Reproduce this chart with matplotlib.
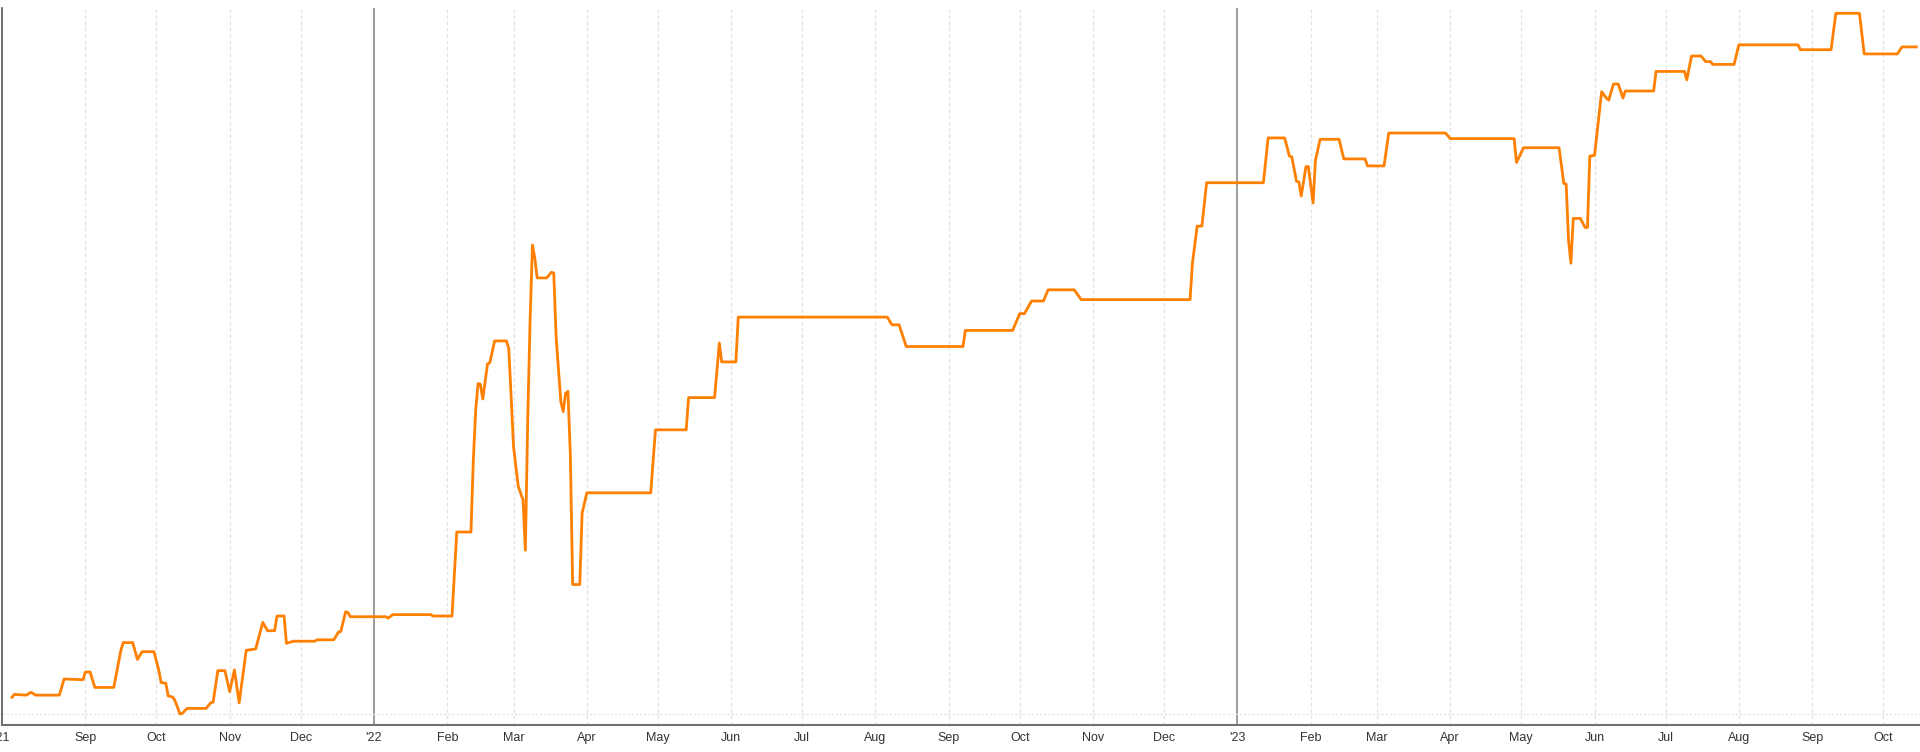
import numpy as np
import pandas as pd
import matplotlib
matplotlib.use('Agg')
import matplotlib.pyplot as plt
import matplotlib.dates as mdates
from matplotlib.ticker import FuncFormatter

plt.rcParams['font.family'] = ['Liberation Sans Narrow', 'Liberation Sans', 'DejaVu Sans']

# daily series (arbitrary units, 0 = dotted baseline)
dates = [
    '2021-08-01', '2021-08-02', '2021-08-07', '2021-08-09', '2021-08-11', '2021-08-21', '2021-08-23', '2021-08-31',
    '2021-09-01', '2021-09-03', '2021-09-05', '2021-09-13', '2021-09-16', '2021-09-17', '2021-09-21', '2021-09-23',
    '2021-09-25', '2021-09-30',
    '2021-10-02', '2021-10-03', '2021-10-05', '2021-10-06', '2021-10-08', '2021-10-09', '2021-10-11', '2021-10-12',
    '2021-10-14', '2021-10-22', '2021-10-24', '2021-10-25', '2021-10-27', '2021-10-30',
    '2021-11-01', '2021-11-03', '2021-11-05', '2021-11-08', '2021-11-12', '2021-11-15', '2021-11-17', '2021-11-20',
    '2021-11-21', '2021-11-24', '2021-11-25', '2021-11-28',
    '2021-12-07', '2021-12-08', '2021-12-15', '2021-12-17', '2021-12-18', '2021-12-20', '2021-12-21', '2021-12-22',
    '2022-01-06', '2022-01-07', '2022-01-09', '2022-01-25', '2022-01-26',
    '2022-02-03', '2022-02-05', '2022-02-11', '2022-02-12', '2022-02-13', '2022-02-14', '2022-02-15', '2022-02-16',
    '2022-02-18', '2022-02-19', '2022-02-21', '2022-02-26', '2022-02-27',
    '2022-03-01', '2022-03-03', '2022-03-05', '2022-03-06', '2022-03-07', '2022-03-08', '2022-03-09', '2022-03-10',
    '2022-03-11', '2022-03-15', '2022-03-17', '2022-03-18', '2022-03-19', '2022-03-21', '2022-03-22', '2022-03-23',
    '2022-03-24', '2022-03-25', '2022-03-26', '2022-03-29', '2022-03-30',
    '2022-04-01', '2022-04-28', '2022-04-30',
    '2022-05-13', '2022-05-14', '2022-05-25', '2022-05-27', '2022-05-28',
    '2022-06-03', '2022-06-04',
    '2022-08-06', '2022-08-08', '2022-08-11', '2022-08-14',
    '2022-09-07', '2022-09-08', '2022-09-28',
    '2022-10-01', '2022-10-03', '2022-10-06', '2022-10-11', '2022-10-13', '2022-10-24', '2022-10-27',
    '2022-12-12', '2022-12-13', '2022-12-15', '2022-12-17', '2022-12-19',
    '2023-01-12', '2023-01-14', '2023-01-21', '2023-01-23', '2023-01-24', '2023-01-26', '2023-01-27', '2023-01-28',
    '2023-01-30', '2023-01-31',
    '2023-02-02', '2023-02-03', '2023-02-05', '2023-02-13', '2023-02-15', '2023-02-24', '2023-02-25',
    '2023-03-04', '2023-03-06', '2023-03-30',
    '2023-04-01', '2023-04-28', '2023-04-29',
    '2023-05-02', '2023-05-17', '2023-05-19', '2023-05-20', '2023-05-21', '2023-05-22', '2023-05-23', '2023-05-26',
    '2023-05-28', '2023-05-29', '2023-05-30',
    '2023-06-01', '2023-06-03', '2023-06-04', '2023-06-06', '2023-06-07', '2023-06-09', '2023-06-11', '2023-06-13',
    '2023-06-14', '2023-06-26', '2023-06-27',
    '2023-07-09', '2023-07-10', '2023-07-12', '2023-07-16', '2023-07-18', '2023-07-20', '2023-07-21', '2023-07-30',
    '2023-08-01', '2023-08-26', '2023-08-27',
    '2023-09-09', '2023-09-11', '2023-09-21', '2023-09-23',
    '2023-10-07', '2023-10-09', '2023-10-15',
]
values = [
    2.4, 2.8, 2.7, 3.1, 2.7, 2.7, 5.0, 4.9,
    6.0, 6.0, 3.8, 3.8, 9.1, 10.2, 10.2, 7.8,
    8.9, 8.9,
    6.3, 4.5, 4.4, 2.6, 2.4, 1.8, 0.0, 0.1,
    0.8, 0.8, 1.6, 1.7, 6.2, 6.2,
    3.2, 6.3, 1.6, 9.1, 9.3, 13.1, 11.9, 11.9,
    14.0, 14.0, 10.1, 10.4,
    10.4, 10.6, 10.6, 11.7, 11.8, 14.6, 14.5, 13.9,
    13.9, 13.7, 14.2, 14.2, 14.0,
    14.0, 26.0, 26.0, 36.3, 43.4, 47.2, 47.1, 45.0,
    50.0, 50.2, 53.3, 53.3, 52.2,
    38.2, 32.5, 30.6, 23.4, 42.0, 56.3, 67.0, 65.1,
    62.3, 62.3, 63.1, 63.0, 53.9, 44.6, 43.2, 45.8,
    46.1, 37.2, 18.5, 18.5, 28.7,
    31.6, 31.6, 40.6,
    40.6, 45.2, 45.2, 53.0, 50.3,
    50.3, 56.7,
    56.7, 55.6, 55.6, 52.5,
    52.5, 54.8, 54.8,
    57.2, 57.2, 59.0, 59.0, 60.6, 60.6, 59.2,
    59.2, 64.4, 69.7, 69.7, 75.9,
    75.9, 82.3, 82.3, 79.7, 79.6, 76.1, 76.0, 74.0,
    78.2, 78.2,
    73.0, 79.1, 82.1, 82.1, 79.3, 79.3, 78.3,
    78.3, 83.0, 83.0,
    82.2, 82.2, 78.8,
    80.9, 80.9, 75.8, 75.7, 67.7, 64.4, 70.8, 70.8,
    69.5, 69.5, 79.7,
    79.8, 85.8, 88.9, 88.0, 87.7, 90.0, 90.0, 88.0,
    89.0, 89.0, 91.8,
    91.8, 90.6, 94.0, 94.0, 93.2, 93.2, 92.8, 92.8,
    95.6, 95.6, 94.9,
    94.9, 100.1, 100.1, 94.3,
    94.3, 95.3, 95.3,
]

df = pd.DataFrame({'Date': pd.to_datetime(dates), 'Value': values})

W, H = 1920, 752
fig = plt.figure(figsize=(W / 100, H / 100), dpi=100)
ax = fig.add_axes([2 / W, 27 / H, 1 - 2 / W, 717 / H])

x0 = pd.Timestamp('2021-07-27 18:00')
x1 = pd.Timestamp('2023-10-16 14:00')
ax.set_xlim(x0, x1)
ax.set_ylim(-1.57, 100.86)

# month grid (fine dashes, very light), year lines (solid gray)
months = pd.date_range('2021-09-01', '2023-10-01', freq='MS')
for m in months:
    if m.month == 1:
        ax.axvline(m, color='#8c8c8c', lw=1.2, zorder=1)
    else:
        ax.axvline(m, color='#e3e3e3', lw=0.9, ls=(0, (3, 2)), zorder=1)
ax.axhline(0, color='#e4e4e4', lw=1, ls=(0, (1.5, 1.5)), zorder=1)

ax.plot(df['Date'], df['Value'], color='#ff8000', lw=2.0, zorder=3, solid_joinstyle='round')

ticks = [x0] + list(months)
ax.set_xticks(ticks)

def fmt(x, pos):
    d = mdates.num2date(x)
    if pos == 0 or d.month == 1:
        return "'" + d.strftime('%y')
    return d.strftime('%b')

ax.xaxis.set_major_formatter(FuncFormatter(fmt))
ax.tick_params(axis='x', length=0, pad=5, labelsize=9, labelcolor='#333333')
ax.set_yticks([])

for s in ['top', 'right']:
    ax.spines[s].set_visible(False)
ax.spines['left'].set_color('#555555')
ax.spines['left'].set_linewidth(1.2)
ax.spines['bottom'].set_color('#707070')
ax.spines['bottom'].set_linewidth(1.5)

fig.savefig('out.png', dpi=100)
